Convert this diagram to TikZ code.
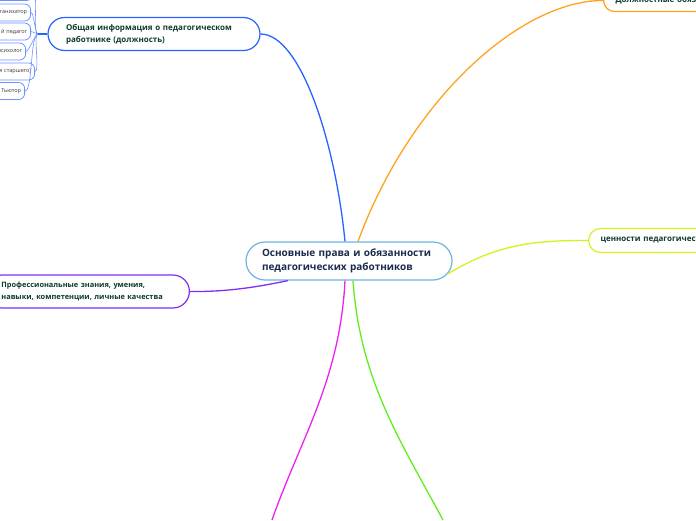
\documentclass[tikz,border=0pt]{standalone}
\usepackage{fontspec}
\setmainfont{Open Sans}
\definecolor{cborder}{HTML}{6CB4E4}
\definecolor{ctext}{HTML}{1A2B4C}
\definecolor{nodetext}{HTML}{0E3B2C}
\definecolor{bluec}{HTML}{2962FF}
\definecolor{lightbluec}{HTML}{6E92FF}
\definecolor{orangec}{HTML}{FFA31E}
\definecolor{yellowc}{HTML}{D6F21E}
\definecolor{purplec}{HTML}{7F2EF5}
\definecolor{magentac}{HTML}{EE22EE}
\definecolor{greenc}{HTML}{62EE1E}
\definecolor{smalltext}{HTML}{3A3A3A}
\begin{document}
\begin{tikzpicture}[x=1pt,y=-1pt,
  mainbox/.style={draw=cborder, line width=1.2pt, fill=white, rounded corners=19pt,
    minimum height=38pt, text width=174pt, inner xsep=16pt, inner ysep=0pt, align=left,
    text=ctext, font=\bfseries\fontsize{10}{14}\selectfont},
  twoline/.style={line width=1.2pt, fill=white, rounded corners=16.5pt,
    minimum height=33pt, text width=176pt, inner xsep=18pt, inner ysep=0pt, align=left,
    text=nodetext, font=\bfseries\fontsize{8}{12}\selectfont},
  oneline/.style={line width=1.2pt, fill=white, rounded corners=12pt,
    minimum height=24pt, text width=170pt, inner xsep=12pt, inner ysep=0pt, align=left,
    text=nodetext, font=\bfseries\fontsize{8}{12}\selectfont},
  smallbox/.style={draw=lightbluec, line width=0.8pt, fill=white, rounded corners=6pt,
    minimum height=17pt, text width=60pt, inner xsep=3.5pt, inner ysep=0pt, align=right,
    anchor=east, text=smalltext, font=\fontsize{5.5}{7}\selectfont},
  link/.style={line width=1.3pt},
  sublink/.style={draw=lightbluec, line width=0.6pt}
]
\useasboundingbox (0,0) rectangle (696,520);
\clip (0,0) rectangle (696,520);

\coordinate (mbot) at (272,520);
\coordinate (gbot) at (443,520);

% central node
\node[mainbox] (c) at (349,261) {Основные права и обязанности\\педагогических работников};

% branch nodes
\node[twoline, draw=bluec] (b) at (154,34) {Общая информация о педагогическом\\работнике (должность)};
\node[twoline, draw=purplec, text width=172pt, inner xsep=16pt, anchor=east, font=\bfseries\fontsize{7.4}{12}\selectfont] (p) at (190,291.5) {Профессиональные знания, умения,\\навыки, компетенции, личные качества};
\node[oneline, draw=yellowc, anchor=west] (y) at (588,240.5) {ценности педагогичес};
\node[oneline, draw=orangec, anchor=west, rounded corners=11pt, minimum height=22pt] (o) at (603,0.5) {Должностные обяз};

% small nodes
\coordinate (J) at (38,34);
\node[smallbox] (s0) at (33,-8) {};
\node[smallbox] (s1) at (31,12.5) {ганизатор};
\node[smallbox] (s2) at (31,31.5) {й педагог};
\node[smallbox] (s3) at (26,51.5) {психолог};
\node[smallbox] (s4) at (35,71.5) {я старшего)};
\node[smallbox] (s5) at (25,91) {Тьютор};

% main connectors
\draw[link, bluec] (b.east) .. controls (300,34) and (335,140) .. ([xshift=-4pt]c.north);
\draw[link, orangec] ([xshift=9pt]c.north) .. controls (410,100) and (520,0.5) .. (o.west);
\draw[link, yellowc] ([shift={(-5pt,-13pt)}]c.east) .. controls (500,242) and (540,240.5) .. (y.west);
\draw[link, purplec] (p.east) .. controls (230,292) and (262,286) .. ([xshift=-61pt]c.south);
\draw[link, magentac] ([xshift=-4pt]c.south) .. controls (340,380) and (300,440) .. (mbot);
\draw[link, greenc] ([xshift=4pt]c.south) .. controls (360,380) and (400,440) .. (gbot);

% sub connectors
\draw[link, bluec, line width=1.2pt] (b.west) -- (J);
\foreach \s in {s0,s1,s2,s3,s4,s5}
  \draw[sublink] (J) to[out=180,in=0,looseness=0.35] (\s.east);
\end{tikzpicture}
\end{document}
